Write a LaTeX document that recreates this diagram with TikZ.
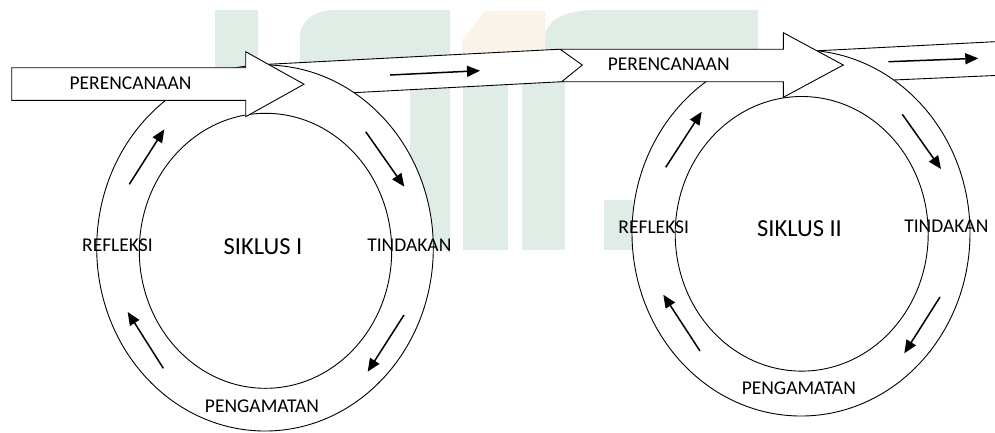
\documentclass[tikz,border=0pt]{standalone}
\usepackage{fontspec}
\setmainfont{Carlito}
\usetikzlibrary{arrows.meta}
\definecolor{wmteal}{RGB}{224,236,230}
\definecolor{wmbeige}{RGB}{250,243,234}
\tikzset{
  outline/.style={draw=black, line width=0.9pt, fill=white, line join=miter},
  edge/.style={draw=black, line width=0.9pt},
  flow/.style={line width=1.5pt, -{Triangle[length=13pt,width=11pt]}},
  lbl/.style={inner sep=0pt, font=\fontsize{19.5}{23}\selectfont},
  big/.style={inner sep=0pt, font=\fontsize{24.5}{29}\selectfont},
}
\begin{document}
\begin{tikzpicture}[x=1pt,y=-1pt]
\useasboundingbox (0,0) rectangle (995,432);
% faint watermark
\fill[wmteal] (215,10) rectangle (258,250);
\fill[wmteal] (300,62) -- (300,38) .. controls (300,20) and (315,10) .. (335,10) -- (450,10) -- (450,250) -- (410,250) -- (410,62) -- cycle;
\fill[wmbeige] (462,57) -- (462,40) -- (485,11) -- (545,11) -- (545,50) -- cycle;
\fill[wmteal] (463,57) rectangle (508,250);
\fill[wmteal] (522,60) rectangle (565,250);
\fill[wmteal] (545,50) -- (545,38) .. controls (545,20) and (565,10) .. (595,10) -- (758,10) -- (758,50) -- cycle;
\fill[wmteal] (604,200) rectangle (633,250);
% band from arrow I to arrow II
\fill[white] (260,64.7) -- (560,49.2) -- (582.3,65) -- (561.7,81.7) -- (340,93.4) -- cycle;
\draw[edge] (260,64.7) -- (560,49.2);
\draw[edge] (340,93.4) -- (561.7,81.7);
% band leaving arrow II
\fill[white] (805,51.4) -- (995,41.7) -- (995,75.5) -- (880,80.6) -- cycle;
\draw[edge] (805,51.4) -- (995,41.7);
\draw[edge] (880,80.6) -- (995,75.5);
% cycle rings
\draw[outline] (265,248) ellipse [x radius=168.3, y radius=183];
\draw[outline] (265.5,250.8) ellipse [x radius=126.2, y radius=137.5];
\draw[outline] (801,233) ellipse [x radius=169, y radius=183];
\draw[outline] (801.7,233.8) ellipse [x radius=126.5, y radius=137.3];
% block arrows
\draw[outline] (11.7,67.7) -- (245.7,67.7) -- (245.7,51.7) -- (304,84.2) -- (245.7,116.7) -- (245.7,100.3) -- (11.7,100.3) -- cycle;
\draw[outline] (560,49.2) -- (783.3,49.2) -- (783.3,32.7) -- (843.3,65) -- (783.3,97.3) -- (783.3,81.7) -- (561.7,81.7) -- (582.3,65) -- cycle;
% flow arrows: coordinates
\coordinate (b1s) at (390,75);     \coordinate (b1e) at (480,70.7);
\coordinate (b2s) at (888.3,61.7); \coordinate (b2e) at (978.3,58.3);
\coordinate (a1s) at (129.3,184.3); \coordinate (a1e) at (164.3,129.3);
\coordinate (a2s) at (365.7,131.7); \coordinate (a2e) at (404.3,186.7);
\coordinate (a3s) at (404,315);     \coordinate (a3e) at (367.7,371.7);
\coordinate (a4s) at (163.3,368.3); \coordinate (a4e) at (127.7,312);
\coordinate (c1s) at (665.7,167.3); \coordinate (c1e) at (701.7,111.7);
\coordinate (c2s) at (902.3,114.3); \coordinate (c2e) at (941,169);
\coordinate (c3s) at (940,297);     \coordinate (c3e) at (904.3,353.3);
\coordinate (c4s) at (700,351);     \coordinate (c4e) at (663.3,294.7);
\foreach \p in {b1,b2,a1,a2,a3,a4,c1,c2,c3,c4} \draw[flow] (\p s) -- (\p e);
% labels
\node[lbl] (per1) at (130.5,83.2) {PERENCANAAN};
\node[lbl] (ref1) at (117.5,245.5) {REFLEKSI};
\node[big] (sik1) at (263,247) {SIKLUS I};
\node[lbl] (tin1) at (409.3,245) {TINDAKAN};
\node[lbl] (pen1) at (262,406) {PENGAMATAN};
\node[lbl] (per2) at (668.7,64.3) {PERENCANAAN};
\node[lbl] (ref2) at (653.8,227.3) {REFLEKSI};
\node[big] (sik2) at (799.5,228.5) {SIKLUS II};
\node[lbl] (tin2) at (946.3,226.3) {TINDAKAN};
\node[lbl] (pen2) at (798.8,387.8) {PENGAMATAN};
\end{tikzpicture}
\end{document}
